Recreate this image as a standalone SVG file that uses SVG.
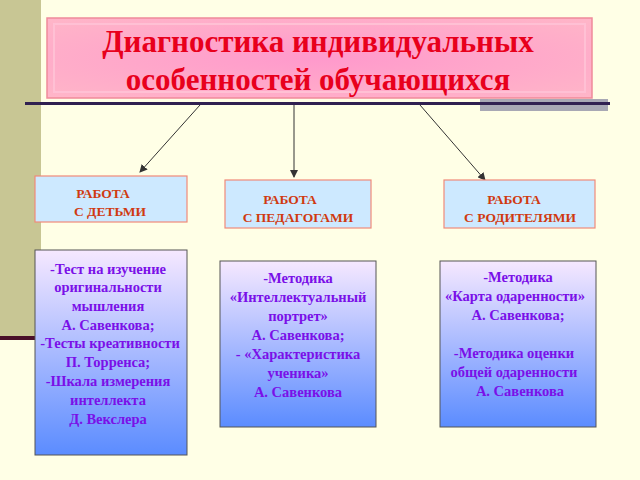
<svg xmlns="http://www.w3.org/2000/svg" width="640" height="480" viewBox="0 0 640 480">
<defs>
<linearGradient id="gb" x1="0" y1="0" x2="0" y2="1"><stop offset="0" stop-color="#f6e8ff"/><stop offset="1" stop-color="#5b8cff"/></linearGradient>
<radialGradient id="gp" cx="0.5" cy="0.5" r="0.7"><stop offset="0" stop-color="#ff99cc"/><stop offset="1" stop-color="#ffb6c8"/></radialGradient>
<marker id="ar" markerWidth="8" markerHeight="8" refX="7" refY="4" orient="auto" markerUnits="userSpaceOnUse"><path d="M0,0 L8,4 L0,8 Z" fill="#333"/></marker>
<style>
.t{font-family:"Liberation Serif",serif;font-weight:bold;text-anchor:middle}
.h{font-size:31px;fill:#e8001c}
.w{font-size:13.5px;fill:#d03a10}
.m{font-size:14.5px;fill:#7a10e8}
.wb{fill:#cde9ff;stroke:#f08a7a;stroke-width:1.2}
.mb{fill:url(#gb);stroke:#555;stroke-width:1}
</style>
</defs>
<rect width="640" height="480" fill="#ffffe6"/>
<rect x="0" y="0" width="41" height="340" fill="#c8c694"/>
<rect x="0" y="336" width="41" height="4" fill="#4a1028"/>
<rect x="480" y="99" width="128" height="12" fill="#a8a8b4"/>
<rect x="25" y="102" width="585" height="3" fill="#302050"/>
<g id="title">
<rect x="47" y="18" width="545" height="80" fill="url(#gp)" stroke="#f08a9a" stroke-width="1.5"/>
<rect x="54" y="24" width="531" height="68" fill="none" stroke="#ffc0d4" stroke-width="2"/>
<text class="t h" x="318" y="52">Диагностика индивидуальных</text>
<text class="t h" x="318" y="90">особенностей обучающихся</text>
</g>
<g id="connectors" stroke="#333" stroke-width="1" fill="none">
<line x1="200" y1="105" x2="140" y2="172" marker-end="url(#ar)"/>
<line x1="294" y1="105" x2="294" y2="177" marker-end="url(#ar)"/>
<line x1="420" y1="105" x2="485" y2="180" marker-end="url(#ar)"/>
</g>
<g id="w1"><rect class="wb" x="35" y="176" width="152" height="46"/>
<text class="t w" x="103" y="198">РАБОТА</text><text class="t w" x="110" y="216">С ДЕТЬМИ</text></g>
<g id="w2"><rect class="wb" x="225" y="180" width="146" height="48"/>
<text class="t w" x="290" y="204">РАБОТА</text><text class="t w" x="298" y="222">С ПЕДАГОГАМИ</text></g>
<g id="w3"><rect class="wb" x="444" y="180" width="151" height="48"/>
<text class="t w" x="514" y="204">РАБОТА</text><text class="t w" x="520" y="222">С РОДИТЕЛЯМИ</text></g>
<g id="m1"><rect class="mb" x="35" y="250" width="152" height="205"/>
<text class="t m"><tspan x="108" y="274">-Тест на изучение</tspan><tspan x="108" y="292">оригинальности</tspan><tspan x="108" y="311">мышления</tspan><tspan x="108" y="330">А. Савенкова;</tspan><tspan x="110" y="348">-Тесты креативности</tspan><tspan x="108" y="367">П. Торренса;</tspan><tspan x="108" y="386">-Шкала измерения</tspan><tspan x="108" y="405">интеллекта</tspan><tspan x="108" y="424">Д. Векслера</tspan></text></g>
<g id="m2"><rect class="mb" x="220" y="261" width="156" height="166"/>
<text class="t m"><tspan x="298" y="283">-Методика</tspan><tspan x="298" y="302">«Интеллектуальный</tspan><tspan x="298" y="321">портрет»</tspan><tspan x="298" y="340">А. Савенкова;</tspan><tspan x="298" y="359">- «Характеристика</tspan><tspan x="298" y="378">ученика»</tspan><tspan x="298" y="397">А. Савенкова</tspan></text></g>
<g id="m3"><rect class="mb" x="440" y="261" width="156" height="166"/>
<text class="t m"><tspan x="518" y="282">-Методика</tspan><tspan x="515" y="301">«Карта одаренности»</tspan><tspan x="518" y="320">А. Савенкова;</tspan><tspan x="514" y="358">-Методика оценки</tspan><tspan x="514" y="377">общей одаренности</tspan><tspan x="520" y="396">А. Савенкова</tspan></text></g>
</svg>
